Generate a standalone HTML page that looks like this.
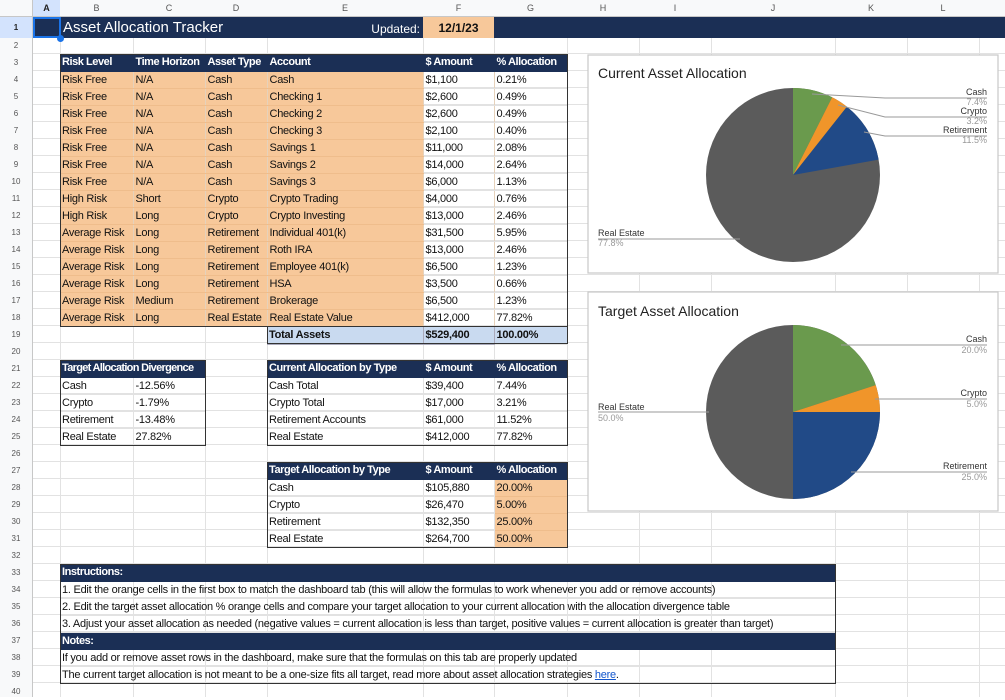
<!DOCTYPE html>
<html><head><meta charset="utf-8"><style>
*{margin:0;padding:0;box-sizing:border-box}
body{width:1005px;height:697px;overflow:hidden;background:#fff;font-family:"Liberation Sans",sans-serif;position:relative}
.abs{position:absolute}
.vl{position:absolute;top:0;width:1px;height:697px;background:#e2e2e2}
.colh{position:absolute;top:0;height:17px;background:#f8f9fa;border-bottom:1px solid #c7c7c7;font-size:9px;color:#555;text-align:center;line-height:17px}
.rowh{position:absolute;left:0;width:33px;background:#f8f9fa;border-right:1px solid #c7c7c7;font-size:8px;color:#555;text-align:center}
table{position:absolute;border-collapse:collapse;table-layout:fixed;font-size:11px;letter-spacing:-0.25px;color:#111}
td{height:17px;padding:1px 2px 0;white-space:nowrap;overflow:hidden;border-right:1px solid #e6d2bb;border-bottom:1px solid #e2e2e2;line-height:15px}
tr.h td{background:#1b2f55;color:#fff;font-weight:bold;border-color:#1b2f55;letter-spacing:-0.45px}
.o{background:#f7c89a;border-bottom-color:#efbd8c}
.bx{border:1.5px solid #333}
.w td{border-right-color:#e2e2e2}
</style></head><body>
<div class="abs" style="left:0;top:37px;width:1005px;height:1px;background:#e2e2e2"></div>
<div class="abs" style="left:0;top:53px;width:1005px;height:1px;background:#e2e2e2"></div>
<div class="abs" style="left:0;top:54px;width:1005px;height:643px;background:repeating-linear-gradient(to bottom,transparent 0,transparent 16px,#e2e2e2 16px,#e2e2e2 17px)"></div>
<div class="vl" style="left:60px"></div><div class="vl" style="left:133px"></div><div class="vl" style="left:205px"></div><div class="vl" style="left:267px"></div><div class="vl" style="left:423px"></div><div class="vl" style="left:494px"></div><div class="vl" style="left:567px"></div><div class="vl" style="left:639px"></div><div class="vl" style="left:711px"></div><div class="vl" style="left:835px"></div><div class="vl" style="left:907px"></div><div class="vl" style="left:979px"></div>
<div class="colh" style="left:0;width:33px;border-right:1px solid #c7c7c7"></div>
<div class="colh" style="left:33px;width:27px;background:#d3e3fd;font-weight:bold;color:#222">A</div>
<div class="colh" style="left:60px;width:73px">B</div><div class="colh" style="left:133px;width:72px">C</div><div class="colh" style="left:205px;width:62px">D</div><div class="colh" style="left:267px;width:156px">E</div><div class="colh" style="left:423px;width:71px">F</div><div class="colh" style="left:494px;width:73px">G</div><div class="colh" style="left:567px;width:72px">H</div><div class="colh" style="left:639px;width:72px">I</div><div class="colh" style="left:711px;width:124px">J</div><div class="colh" style="left:835px;width:72px">K</div><div class="colh" style="left:907px;width:72px">L</div><div class="colh" style="left:979px;width:26px"></div>
<div class="rowh" style="top:17px;height:21px;line-height:21px;background:#d3e3fd;font-weight:bold;color:#222">1</div>
<div class="rowh" style="top:38px;height:16px;line-height:16px">2</div>
<div class="rowh" style="top:54px;height:643px;line-height:17px">3<br>4<br>5<br>6<br>7<br>8<br>9<br>10<br>11<br>12<br>13<br>14<br>15<br>16<br>17<br>18<br>19<br>20<br>21<br>22<br>23<br>24<br>25<br>26<br>27<br>28<br>29<br>30<br>31<br>32<br>33<br>34<br>35<br>36<br>37<br>38<br>39<br>40</div>
<div class="abs" style="left:33px;top:17px;width:972px;height:21px;background:#1b2f55"></div>
<div class="abs" style="left:33px;top:17px;width:28px;height:21px;border:2px solid #1a73e8"></div>
<div class="abs" style="left:57px;top:35px;width:7px;height:7px;border-radius:50%;background:#1a73e8"></div>
<div class="abs" style="left:63px;top:18px;color:#fff;font-size:15px;line-height:20px">Asset Allocation Tracker</div>
<div class="abs" style="left:300px;top:18px;width:120px;text-align:right;color:#fff;font-size:12px;line-height:22px">Updated:</div>
<div class="abs" style="left:423px;top:17px;width:71px;height:21px;background:#f7c89a;text-align:center;font-weight:bold;font-size:12px;line-height:22px;color:#111">12/1/23</div>
<table style="left:60px;top:54px;width:507px">
<colgroup><col style="width:73px"><col style="width:72px"><col style="width:62px"><col style="width:156px"><col style="width:71px"><col style="width:73px"></colgroup>
<tr class="h"><td>Risk Level</td><td>Time Horizon</td><td>Asset Type</td><td>Account</td><td>$ Amount</td><td>% Allocation</td></tr>
<tr><td class="o">Risk Free</td><td class="o">N/A</td><td class="o">Cash</td><td class="o">Cash</td><td>$1,100</td><td>0.21%</td></tr>
<tr><td class="o">Risk Free</td><td class="o">N/A</td><td class="o">Cash</td><td class="o">Checking 1</td><td>$2,600</td><td>0.49%</td></tr>
<tr><td class="o">Risk Free</td><td class="o">N/A</td><td class="o">Cash</td><td class="o">Checking 2</td><td>$2,600</td><td>0.49%</td></tr>
<tr><td class="o">Risk Free</td><td class="o">N/A</td><td class="o">Cash</td><td class="o">Checking 3</td><td>$2,100</td><td>0.40%</td></tr>
<tr><td class="o">Risk Free</td><td class="o">N/A</td><td class="o">Cash</td><td class="o">Savings 1</td><td>$11,000</td><td>2.08%</td></tr>
<tr><td class="o">Risk Free</td><td class="o">N/A</td><td class="o">Cash</td><td class="o">Savings 2</td><td>$14,000</td><td>2.64%</td></tr>
<tr><td class="o">Risk Free</td><td class="o">N/A</td><td class="o">Cash</td><td class="o">Savings 3</td><td>$6,000</td><td>1.13%</td></tr>
<tr><td class="o">High Risk</td><td class="o">Short</td><td class="o">Crypto</td><td class="o">Crypto Trading</td><td>$4,000</td><td>0.76%</td></tr>
<tr><td class="o">High Risk</td><td class="o">Long</td><td class="o">Crypto</td><td class="o">Crypto Investing</td><td>$13,000</td><td>2.46%</td></tr>
<tr><td class="o">Average Risk</td><td class="o">Long</td><td class="o">Retirement</td><td class="o">Individual 401(k)</td><td>$31,500</td><td>5.95%</td></tr>
<tr><td class="o">Average Risk</td><td class="o">Long</td><td class="o">Retirement</td><td class="o">Roth IRA</td><td>$13,000</td><td>2.46%</td></tr>
<tr><td class="o">Average Risk</td><td class="o">Long</td><td class="o">Retirement</td><td class="o">Employee 401(k)</td><td>$6,500</td><td>1.23%</td></tr>
<tr><td class="o">Average Risk</td><td class="o">Long</td><td class="o">Retirement</td><td class="o">HSA</td><td>$3,500</td><td>0.66%</td></tr>
<tr><td class="o">Average Risk</td><td class="o">Medium</td><td class="o">Retirement</td><td class="o">Brokerage</td><td>$6,500</td><td>1.23%</td></tr>
<tr><td class="o">Average Risk</td><td class="o">Long</td><td class="o">Real Estate</td><td class="o">Real Estate Value</td><td>$412,000</td><td>77.82%</td></tr>
</table>
<div class="abs bx" style="left:60px;top:54px;width:508px;height:273px"></div>
<table style="left:267px;top:327px;width:300px;font-weight:bold">
<colgroup><col style="width:156px"><col style="width:71px"><col style="width:73px"></colgroup>
<tr><td style="background:#c9daf0;border-color:#aab">Total Assets</td><td style="background:#c9daf0;border-color:#aab">$529,400</td><td style="background:#c9daf0">100.00%</td></tr></table>
<div class="abs bx" style="left:267px;top:326px;width:301px;height:18px"></div>
<table class="w" style="left:60px;top:360px;width:145px">
<colgroup><col style="width:73px"><col style="width:72px"></colgroup>
<tr class="h"><td colspan="2" style="letter-spacing:-0.7px">Target Allocation Divergence</td></tr>
<tr><td>Cash</td><td>-12.56%</td></tr><tr><td>Crypto</td><td>-1.79%</td></tr><tr><td>Retirement</td><td>-13.48%</td></tr><tr><td>Real Estate</td><td>27.82%</td></tr></table>
<div class="abs bx" style="left:60px;top:360px;width:146px;height:86px"></div>
<table class="w" style="left:267px;top:360px;width:300px">
<colgroup><col style="width:156px"><col style="width:71px"><col style="width:73px"></colgroup>
<tr class="h"><td>Current Allocation by Type</td><td>$ Amount</td><td>% Allocation</td></tr>
<tr><td>Cash Total</td><td>$39,400</td><td>7.44%</td></tr><tr><td>Crypto Total</td><td>$17,000</td><td>3.21%</td></tr><tr><td>Retirement Accounts</td><td>$61,000</td><td>11.52%</td></tr><tr><td>Real Estate</td><td>$412,000</td><td>77.82%</td></tr></table>
<div class="abs bx" style="left:267px;top:360px;width:301px;height:86px"></div>
<table class="w" style="left:267px;top:462px;width:300px">
<colgroup><col style="width:156px"><col style="width:71px"><col style="width:73px"></colgroup>
<tr class="h"><td>Target Allocation by Type</td><td>$ Amount</td><td>% Allocation</td></tr>
<tr><td>Cash</td><td>$105,880</td><td class="o">20.00%</td></tr><tr><td>Crypto</td><td>$26,470</td><td class="o">5.00%</td></tr><tr><td>Retirement</td><td>$132,350</td><td class="o">25.00%</td></tr><tr><td>Real Estate</td><td>$264,700</td><td class="o">50.00%</td></tr></table>
<div class="abs bx" style="left:267px;top:462px;width:301px;height:86px"></div>
<table style="left:60px;top:564px;width:775px">
<tr class="h"><td>Instructions:</td></tr>
<tr><td style="border-right:0">1. Edit the orange cells in the first box to match the dashboard tab (this will allow the formulas to work whenever you add or remove accounts)</td></tr>
<tr><td style="border-right:0">2. Edit the target asset allocation % orange cells and compare your target allocation to your current allocation with the allocation divergence table</td></tr>
<tr><td style="border-right:0">3. Adjust your asset allocation as needed (negative values = current allocation is less than target, positive values = current allocation is greater than target)</td></tr>
<tr class="h"><td>Notes:</td></tr>
<tr><td style="border-right:0">If you add or remove asset rows in the dashboard, make sure that the formulas on this tab are properly updated</td></tr>
<tr><td style="border-right:0">The current target allocation is not meant to be a one-size fits all target, read more about asset allocation strategies <span style="color:#1155cc;text-decoration:underline">here</span>.</td></tr>
</table>
<div class="abs bx" style="left:60px;top:564px;width:776px;height:120px"></div>
<svg class="abs" style="left:0;top:0" width="1005" height="697" font-family="Liberation Sans, sans-serif">
<rect x="588" y="55" width="410" height="218" fill="#fff" stroke="#c8c8c8" stroke-width="1.2"/>
<text x="598" y="78" font-size="14" fill="#222">Current Asset Allocation</text>
<circle cx="793" cy="175" r="87" fill="#5b5b5b"/>
<path d="M793,175 L793,88 A87,87 0 0,1 832.2,97.3 Z" fill="#6a9a4d"/>
<path d="M793,175 L832.2,97.3 A87,87 0 0,1 846.9,106.7 Z" fill="#f0952a"/>
<path d="M793,175 L846.9,106.7 A87,87 0 0,1 878.6,159.6 Z" fill="#214a87"/>
<g stroke="#999" fill="none" stroke-width="1">
<polyline points="812,94 885,98 987,98"/><polyline points="838,105 885,117 987,117"/><polyline points="864,132 885,136 987,136"/><polyline points="740,239 598,239"/></g>
<g font-size="9" text-anchor="end"><text x="987" y="95" fill="#333">Cash</text><text x="987" y="105" fill="#999">7.4%</text><text x="987" y="114" fill="#333">Crypto</text><text x="987" y="124" fill="#999">3.2%</text><text x="987" y="133" fill="#333">Retirement</text><text x="987" y="143" fill="#999">11.5%</text></g>
<g font-size="9"><text x="598" y="236" fill="#333">Real Estate</text><text x="598" y="246" fill="#999">77.8%</text></g>
<rect x="588" y="292" width="410" height="219" fill="#fff" stroke="#c8c8c8" stroke-width="1.2"/>
<text x="598" y="316" font-size="14" fill="#222">Target Asset Allocation</text>
<circle cx="793" cy="412" r="87" fill="#5b5b5b"/>
<path d="M793,412 L793,325 A87,87 0 0,1 875.7,385.1 Z" fill="#6a9a4d"/>
<path d="M793,412 L875.7,385.1 A87,87 0 0,1 880,412 Z" fill="#f0952a"/>
<path d="M793,412 L880,412 A87,87 0 0,1 793,499 Z" fill="#214a87"/>
<g stroke="#999" fill="none" stroke-width="1">
<polyline points="841,345 987,345"/><polyline points="875,399 987,399"/><polyline points="851,472 987,472"/><polyline points="709,412 598,412"/></g>
<g font-size="9" text-anchor="end"><text x="987" y="342" fill="#333">Cash</text><text x="987" y="353" fill="#999">20.0%</text><text x="987" y="396" fill="#333">Crypto</text><text x="987" y="407" fill="#999">5.0%</text><text x="987" y="469" fill="#333">Retirement</text><text x="987" y="480" fill="#999">25.0%</text></g>
<g font-size="9"><text x="598" y="410" fill="#333">Real Estate</text><text x="598" y="421" fill="#999">50.0%</text></g>
</svg>
</body></html>
